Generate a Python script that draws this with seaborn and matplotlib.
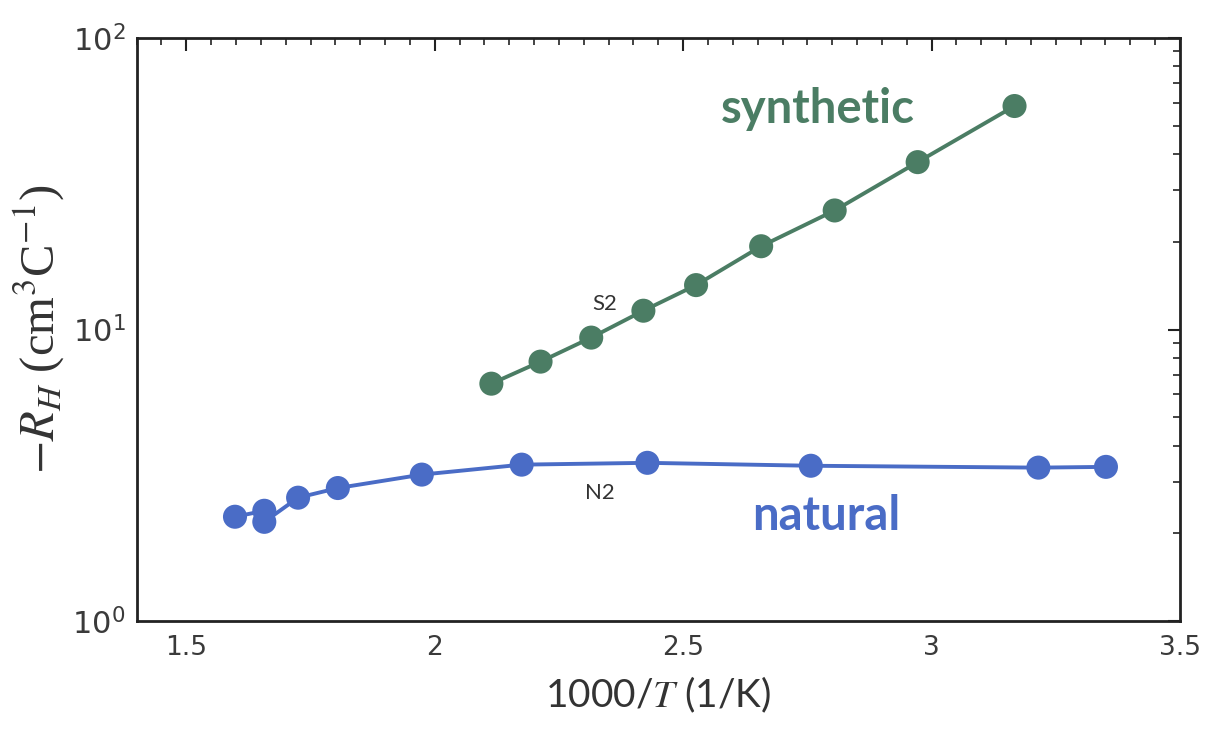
import numpy as np
import pandas as pd
import matplotlib
matplotlib.use("Agg")
import matplotlib.pyplot as plt
import matplotlib.ticker as mticker
import seaborn as sns

# Data
synthetic_x = [2.114, 2.213, 2.315, 2.420, 2.526, 2.657, 2.805, 2.972, 3.167]
synthetic_y = [6.52, 7.76, 9.38, 11.6, 14.2, 19.3, 25.6, 37.5, 58.4]
natural_x = [1.598, 1.657, 1.657, 1.725, 1.805, 1.974, 2.175, 2.428, 2.757, 3.215, 3.351]
natural_y = [2.28, 2.39, 2.19, 2.65, 2.86, 3.18, 3.44, 3.49, 3.41, 3.36, 3.38]
x_ticks = [1.5, 2, 2.5, 3, 3.5]
x_tick_labels = ["1.5", "2", "2.5", "3", "3.5"]
y_ticks = [1, 10, 100]
y_tick_labels = [r"$\mathregular{10^{0}}$", r"$\mathregular{10^{1}}$", r"$\mathregular{10^{2}}$"]

GREEN = "#4b7d64"
BLUE = "#4a6cc6"

sns.set_theme(style="white")
plt.rcParams["font.family"] = ["DejaVu Sans"]
plt.rcParams["mathtext.fontset"] = "stix"

fig = plt.figure(figsize=(12.09, 7.29), dpi=100)
ax = fig.add_axes([0.113, 0.148, 0.863, 0.800])

syn = pd.DataFrame({"x": synthetic_x, "y": synthetic_y})
nat = pd.DataFrame({"x": natural_x, "y": natural_y})

sns.lineplot(data=syn, x="x", y="y", ax=ax, color=GREEN, lw=2.8, sort=False, estimator=None)
sns.scatterplot(data=syn, x="x", y="y", ax=ax, color=GREEN, s=300, edgecolor="none", zorder=3)
sns.lineplot(data=nat, x="x", y="y", ax=ax, color=BLUE, lw=2.8, sort=False, estimator=None)
sns.scatterplot(data=nat, x="x", y="y", ax=ax, color=BLUE, s=300, edgecolor="none", zorder=3)

ax.set_yscale("log")
ax.set_xlim(1.4, 3.5)
ax.set_ylim(1, 100)

ax.set_xticks(x_ticks)
ax.set_xticklabels(x_tick_labels)
ax.xaxis.set_minor_locator(mticker.MultipleLocator(0.05))
ax.set_yticks(y_ticks)
ax.set_yticklabels(y_tick_labels)
ax.yaxis.set_minor_locator(mticker.LogLocator(base=10, subs=np.arange(2, 10)))
ax.yaxis.set_minor_formatter(mticker.NullFormatter())

ax.tick_params(which="both", direction="in", top=True, right=True, color="#222222")
ax.tick_params(which="major", length=9, width=1.5, labelcolor="#3a3a3a", pad=10)
ax.tick_params(axis="x", which="major", labelsize=19)
ax.tick_params(axis="y", which="major", labelsize=22, pad=8)
ax.tick_params(which="minor", length=5, width=1.2)

for s in ax.spines.values():
    s.set_color("#222222")
    s.set_linewidth(2)

ax.set_xlabel(r"1000/$\it{T}$ (1/K)", fontsize=28, family="Lato", color="#333333", labelpad=10)
ax.set_ylabel(r"$-R_H$ (cm$^3$C$^{-1}$)", fontsize=35, family="Liberation Serif", color="#333333", labelpad=4)

ax.text(2.772, 57, "synthetic", color=GREEN, fontsize=34, fontweight="bold", family="Lato",
        ha="center", va="center")
ax.text(2.788, 2.30, "natural", color=BLUE, fontsize=34, fontweight="bold", family="Lato",
        ha="center", va="center")
ax.text(2.343, 12.2, "S2", color="#333333", fontsize=16, family="Lato", ha="center", va="center")
ax.text(2.333, 2.76, "N2", color="#333333", fontsize=16, family="Lato", ha="center", va="center")

fig.savefig("out.png", dpi=100)
